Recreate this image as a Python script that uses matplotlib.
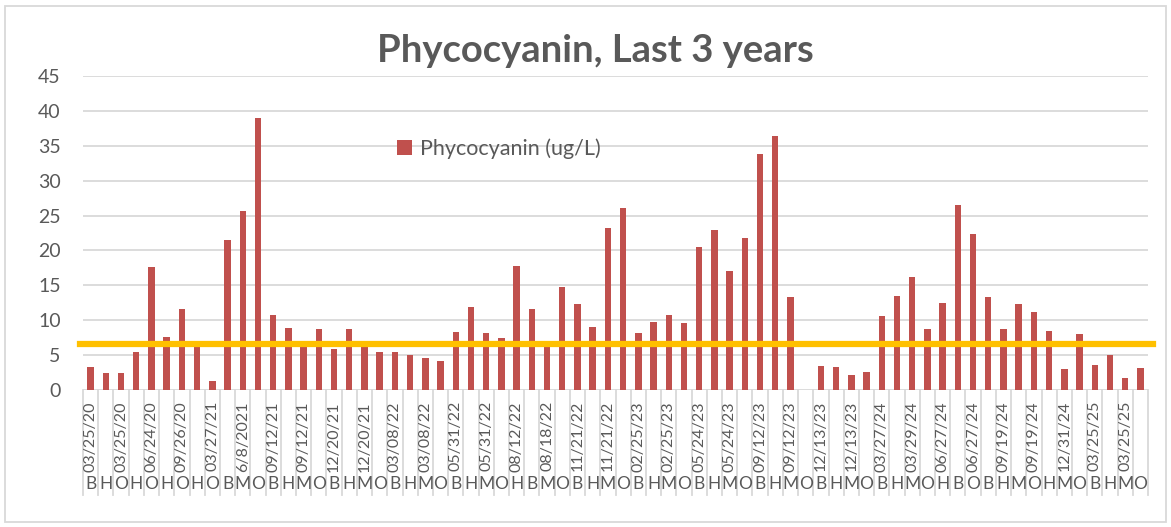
import matplotlib
matplotlib.use("Agg")
import matplotlib.pyplot as plt
import matplotlib.transforms as mtransforms
from matplotlib.patches import Rectangle

# ---------------- data ----------------
sites = ["B", "H", "O", "H", "O", "H", "O", "H", "O", "B",
         "M", "O", "B", "H", "M", "O", "B", "H", "M", "O",
         "B", "H", "M", "O", "B", "H", "M", "O", "H", "B",
         "M", "O", "B", "H", "M", "O", "B", "H", "M", "O",
         "B", "H", "M", "O", "B", "H", "M", "O", "B", "H",
         "M", "O", "B", "H", "M", "O", "H", "B", "O", "B",
         "H", "M", "O", "H", "M", "O", "B", "H", "M", "O"]

date_labels = ["03/25/20", "03/25/20", "06/24/20", "09/26/20", "03/27/21",
               "6/8/2021", "09/12/21", "09/12/21", "12/20/21", "12/20/21",
               "03/08/22", "03/08/22", "05/31/22", "05/31/22", "08/12/22",
               "08/18/22", "11/21/22", "11/21/22", "02/25/23", "02/25/23",
               "05/24/23", "05/24/23", "09/12/23", "09/12/23", "12/13/23",
               "12/13/23", "03/27/24", "03/29/24", "06/27/24", "06/27/24",
               "09/19/24", "09/19/24", "12/31/24", "03/25/25", "03/25/25"]

phycocyanin = [3.3, 2.4, 2.4, 5.4, 17.6, 7.6, 11.6, 6.4, 1.3, 21.5,
               25.7, 39.0, 10.8, 8.9, 6.4, 8.8, 5.9, 8.8, 6.9, 5.5,
               5.4, 5.0, 4.6, 4.1, 8.3, 11.9, 8.2, 7.5, 17.7, 11.6,
               6.4, 14.8, 12.3, 9.0, 23.2, 26.1, 8.2, 9.7, 10.8, 9.6,
               20.5, 23.0, 17.1, 21.8, 33.8, 36.4, 13.3, 0.0, 3.5, 3.3,
               2.2, 2.6, 10.6, 13.5, 16.2, 8.7, 12.4, 26.5, 22.3, 13.3,
               8.7, 12.3, 11.2, 8.5, 3.0, 8.0, 3.6, 5.0, 1.7, 3.1]

threshold = 6.55
series_name = "Phycocyanin (ug/L)"
title = "Phycocyanin, Last 3 years"
yticks = [0, 5, 10, 15, 20, 25, 30, 35, 40, 45]

# ---------------- style ----------------
W, H = 1171, 527
BAR = "#C0504D"
GRID = "#D9D9D9"
TXT = "#595959"
ORANGE = "#FFC000"
FONT = ["Lato", "DejaVu Sans"]
plt.rcParams["font.family"] = FONT

fig = plt.figure(figsize=(W / 100, H / 100), dpi=100)
fig.patch.set_facecolor("white")

def fx(px):
    return px / W

def fy(py):
    return 1 - py / H

left, right, top, bottom = 83, 1148, 76, 390
ax = fig.add_axes([fx(left), fy(bottom), fx(right - left), (bottom - top) / H])

n = len(phycocyanin)
xs = list(range(n))
ax.bar(xs, phycocyanin, width=0.42, color=BAR, label=series_name, zorder=3)
ax.set_xlim(-0.5, n - 0.5)
ax.set_ylim(0, 45)
ax.set_yticks(yticks)
ax.set_yticklabels([str(v) for v in yticks])
ax.tick_params(axis="y", length=0, pad=16, labelsize=14, labelcolor=TXT)
ax.set_xticks([])
for s in ["top", "right", "left", "bottom"]:
    ax.spines[s].set_visible(False)
ax.grid(axis="y", color=GRID, lw=1.3, zorder=0)
ax.set_axisbelow(True)

# threshold line (extends slightly beyond plot area)
ax.axhline(threshold, xmin=-0.003, xmax=1.0047, color=ORANGE, lw=4.5,
           zorder=4, clip_on=False)

# two-level category axis
trans = mtransforms.blended_transform_factory(ax.transData, fig.transFigure)
for i in range(n + 1):
    ax.plot([i - 0.5, i - 0.5], [fy(390), fy(495)], color=GRID, lw=1.3,
            transform=trans, clip_on=False, zorder=1)
for i, s in enumerate(sites):
    ax.text(i, fy(484), s, transform=trans, ha="center", va="center",
            fontsize=12.5, color=TXT)
for k, d in enumerate(date_labels):
    ax.text(2 * k, fy(401), d, transform=trans, ha="center", va="top",
            rotation=90, fontsize=11.5, color=TXT)

# title
fig.text(fx(595), fy(51), title, ha="center", va="center", fontsize=27.5,
         fontweight="bold", color=TXT)

# legend
leg = ax.legend(loc="center left", bbox_to_anchor=(fx(397), fy(149)),
                bbox_transform=fig.transFigure, frameon=False,
                handlelength=0.7, handleheight=0.7, handletextpad=0.35,
                borderpad=0, borderaxespad=0, fontsize=15.5)
for t in leg.get_texts():
    t.set_color(TXT)

# chart border
fig.patches.append(Rectangle((fx(5.5), fy(521.5)), fx(1160), (516) / H,
                             transform=fig.transFigure, fill=False,
                             edgecolor=GRID, lw=1.3))

fig.savefig("out.png", dpi=100, facecolor="white")
